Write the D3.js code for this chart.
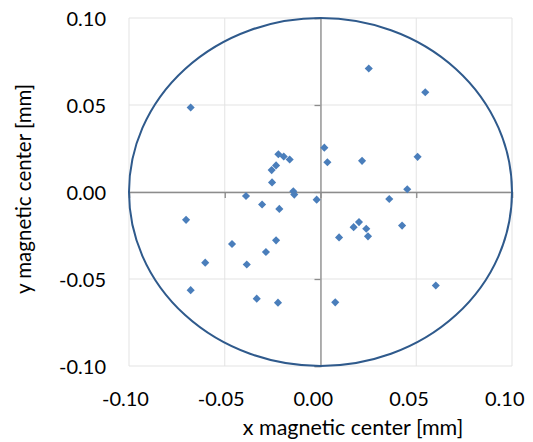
<!DOCTYPE html>
<html>
<head>
<meta charset="utf-8">
<script src="https://cdn.jsdelivr.net/npm/d3@7"></script>
<style>
  html, body { margin: 0; padding: 0; background: #fff; }
  svg { display: block; }
  text { font-family: Lato, "Open Sans", sans-serif; fill: #000; }
</style>
</head>
<body>
<svg id="chart" width="533" height="442"></svg>
<script>
// Magnetic centre offsets, mm
const xCenter = [
  -0.0678, -0.0220, -0.0192, -0.0161, -0.0232, -0.0255, -0.0253, -0.0142, -0.0137,
  0.0252, 0.0547, 0.0020, 0.0036, 0.0217, 0.0507, 0.0453,
  -0.0389, -0.0305, -0.0215, -0.0020, -0.0702, -0.0462, -0.0232, -0.0285, -0.0602,
  -0.0385, -0.0678, -0.0333, -0.0222,
  0.0359, 0.0426, 0.0097, 0.0173, 0.0201, 0.0239, 0.0248, 0.0602, 0.0077
];
const yCenter = [
  0.0486, 0.0217, 0.0204, 0.0187, 0.0153, 0.0126, 0.0055, 0.0004, -0.0015,
  0.0710, 0.0573, 0.0255, 0.0171, 0.0179, 0.0202, 0.0016,
  -0.0023, -0.0072, -0.0097, -0.0044, -0.0160, -0.0299, -0.0278, -0.0345, -0.0406,
  -0.0417, -0.0564, -0.0613, -0.0636,
  -0.0040, -0.0193, -0.0261, -0.0202, -0.0173, -0.0211, -0.0255, -0.0537, -0.0634
];
const xTicks = [-0.10, -0.05, 0.00, 0.05, 0.10];
const yTicks = [-0.10, -0.05, 0.00, 0.05, 0.10];
const toleranceRadius = 0.10;

const svg = d3.select("#chart");
const plotL = 129, plotR = 512, plotT = 18, plotB = 366;

const x = d3.scaleLinear().domain([-0.10, 0.10]).range([plotL, plotR]);
const y = d3.scaleLinear().domain([-0.10, 0.10]).range([plotB, plotT]);
const fmt = d => d.toFixed(2);

// gridlines
const grid = svg.append("g");
grid.selectAll("line.vx").data(xTicks).join("line")
  .attr("x1", d => x(d)).attr("x2", d => x(d))
  .attr("y1", plotT).attr("y2", plotB)
  .attr("stroke", "#e3e3e3").attr("stroke-width", 1);
grid.selectAll("line.hy").data(yTicks).join("line")
  .attr("x1", plotL).attr("x2", plotR)
  .attr("y1", d => y(d)).attr("y2", d => y(d))
  .attr("stroke", "#e3e3e3").attr("stroke-width", 1);

// axes crossing at zero, ticks only
const xAxis = d3.axisBottom(x).tickValues(xTicks).tickSize(6).tickFormat("");
const yAxis = d3.axisLeft(y).tickValues(yTicks).tickSize(6).tickFormat("");
const gx = svg.append("g").attr("transform", `translate(0,${y(0)})`).call(xAxis);
const gy = svg.append("g").attr("transform", `translate(${x(0)},0)`).call(yAxis);
[gx, gy].forEach(g => {
  g.select(".domain").attr("stroke", "#8c8c8c").attr("stroke-width", 1.3);
  g.selectAll(".tick line").attr("stroke", "#8c8c8c").attr("stroke-width", 1.3);
});

// tick labels along plot edges
svg.append("g").selectAll("text").data(xTicks).join("text")
  .attr("x", d => x(d) - 27).attr("y", 406)
  .attr("text-anchor", "start")
  .attr("font-size", 20).text(fmt);
svg.append("g").selectAll("text").data(yTicks).join("text")
  .attr("x", 106).attr("y", d => y(d) + 7.5)
  .attr("text-anchor", "end")
  .attr("font-size", 20).text(fmt);

// tolerance circle
svg.append("ellipse")
  .attr("cx", x(0)).attr("cy", y(0))
  .attr("rx", x(toleranceRadius) - x(0)).attr("ry", y(0) - y(toleranceRadius))
  .attr("fill", "none").attr("stroke", "#2f5a8c").attr("stroke-width", 2);

// data markers
const pts = xCenter.map((v, i) => [v, yCenter[i]]);
const diamond = d3.symbol().type(d3.symbolDiamond2).size(42);
svg.append("g").selectAll("path").data(pts).join("path")
  .attr("d", diamond)
  .attr("transform", d => `translate(${x(d[0])},${y(d[1])})`)
  .attr("fill", "#4a7ebb");

// axis titles
svg.append("text").attr("x", 353).attr("y", 435)
  .attr("text-anchor", "middle")
  .attr("font-size", 21.5).text("x magnetic center [mm]");
svg.append("text")
  .attr("transform", "translate(31,189) rotate(-90)")
  .attr("text-anchor", "middle")
  .attr("font-size", 20.5).text("y magnetic center [mm]");
</script>
</body>
</html>
